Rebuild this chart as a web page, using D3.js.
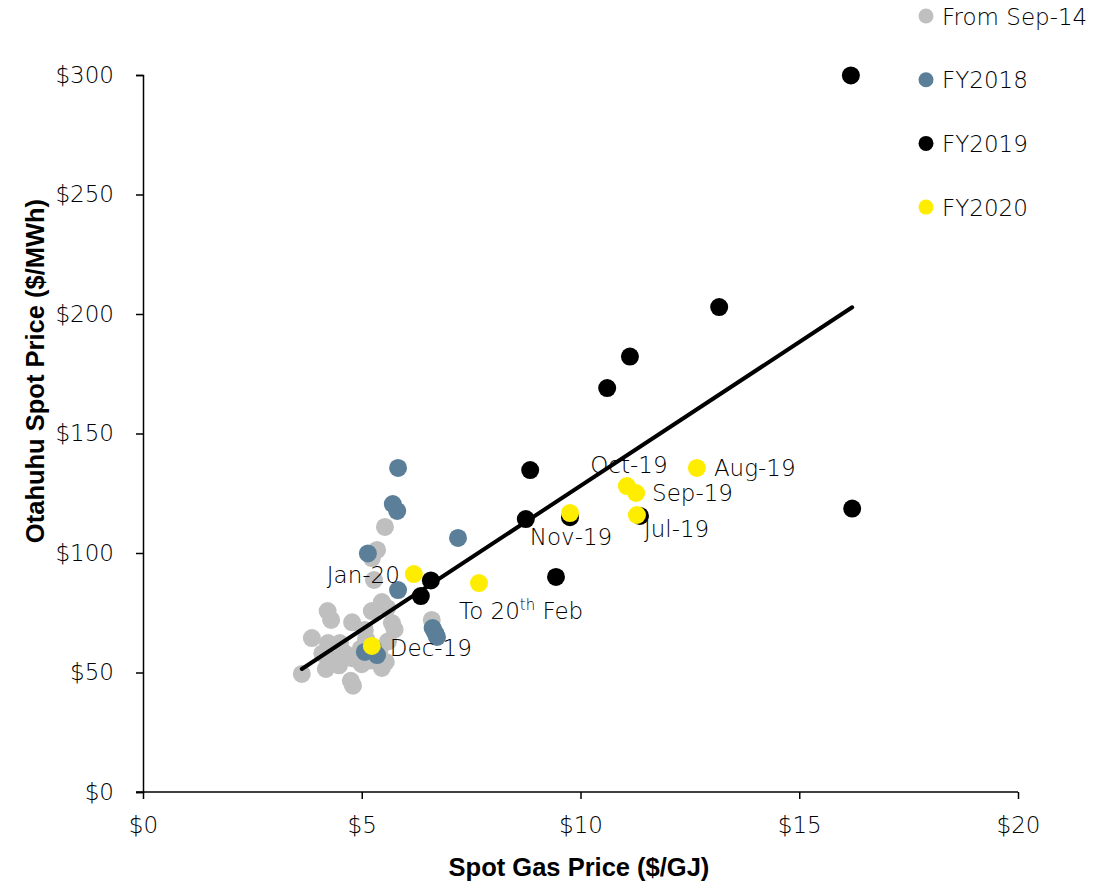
<!DOCTYPE html>
<html>
<head>
<meta charset="utf-8">
<script src="https://cdn.jsdelivr.net/npm/d3@7"></script>
<style>
  body { margin: 0; background: #fff; }
  text { font-family: "DejaVu Sans", sans-serif; font-weight: 200; fill: #000; }
</style>
</head>
<body>
<div id="chart"></div>
<script>
// monthly points: [spot gas $/GJ, Otahuhu spot $/MWh]
const fromSep14 = [
  [3.63, 49.4], [3.86, 64.4], [4.18, 51.5], [4.22, 75.7], [4.30, 72.0], [4.23, 62.3],
  [4.50, 62.3], [4.78, 71.0], [4.78, 56.0], [4.80, 44.5], [4.75, 46.5], [5.07, 67.8],
  [5.23, 75.7], [4.98, 60.0], [4.48, 53.0], [4.62, 58.0], [5.53, 110.9], [5.35, 101.3],
  [5.23, 97.9], [5.28, 88.7], [5.46, 79.5], [5.58, 77.0], [5.69, 70.7], [5.60, 63.0],
  [5.46, 51.9], [5.55, 54.4], [6.60, 72.0], [5.20, 55.0], [5.00, 53.5], [4.35, 55.5],
  [5.75, 68.0], [5.10, 64.0], [5.40, 59.0], [4.10, 58.0]
];
const fy2018 = [
  [5.83, 135.6], [5.71, 120.5], [5.81, 117.6], [5.14, 99.8], [7.20, 106.3], [5.83, 84.5],
  [6.62, 68.6], [6.68, 66.5], [6.72, 64.9], [5.07, 58.6], [5.35, 57.3], [5.25, 60.5]
];
const fy2019 = [
  [16.18, 299.8], [13.17, 202.9], [11.13, 182.2], [10.61, 169.0], [8.85, 134.7], [8.75, 114.2],
  [9.76, 115.0], [11.36, 115.5], [9.44, 90.0], [16.21, 118.6], [6.58, 88.5], [6.35, 82.0]
];
const fy2020 = [
  [11.29, 115.9], [12.66, 135.6], [11.27, 125.1], [11.06, 128.0],
  [9.76, 116.7], [5.23, 61.1], [6.19, 91.2], [7.68, 87.4]
];
const fy2020Labels = ["Jul-19", "Aug-19", "Sep-19", "Oct-19", "Nov-19", "Dec-19", "Jan-20", "To 20th Feb"];

const seriesNames = ["From Sep-14", "FY2018", "FY2019", "FY2020"];
const seriesColors = ["#bfbfbf", "#5b7f99", "#000000", "#ffed00"];

const xTicks = [0, 5, 10, 15, 20];
const yTicks = [0, 50, 100, 150, 200, 250, 300];

// linear trend over all points
const trendSlope = 12.03, trendIntercept = 7.8;

const width = 1095, height = 890;
const margin = {top: 75, right: 77, bottom: 98, left: 143};

const svg = d3.select('#chart').append('svg')
  .attr('width', width)
  .attr('height', height);

const x = d3.scaleLinear().domain([0, 20]).range([margin.left, width - margin.right]);
const y = d3.scaleLinear().domain([0, 300]).range([height - margin.bottom, margin.top]);

// axes
const xAxis = svg.append('g')
  .attr('transform', `translate(0,${y(0)})`)
  .call(d3.axisBottom(x).tickValues(xTicks).tickSize(7).tickPadding(18).tickFormat(d => '$' + d));
const yAxis = svg.append('g')
  .attr('transform', `translate(${x(0)},0)`)
  .call(d3.axisLeft(y).tickValues(yTicks).tickSize(7).tickPadding(22).tickFormat(d => '$' + d));

[xAxis, yAxis].forEach(a => {
  a.select('.domain').attr('stroke', '#000').attr('stroke-width', 1.5);
  a.selectAll('.tick line').attr('stroke', '#000').attr('stroke-width', 1.5);
  a.selectAll('.tick text').attr('font-size', 23).attr('font-family', '"DejaVu Sans", sans-serif')
    .attr('font-weight', 200).attr('fill', '#000');
});
// x domain line runs a little left of zero like the original
xAxis.select('.domain').attr('d', `M${x(0) - 7},0H${x(20)}`);

// axis titles
svg.append('text')
  .attr('x', 579)
  .attr('y', 876)
  .attr('text-anchor', 'middle')
  .attr('font-size', 25.5)
  .style('font-weight', 'bold')
  .style('font-family', '"Liberation Sans", Arial, sans-serif')
  .text('Spot Gas Price ($/GJ)');

svg.append('text')
  .attr('transform', `translate(44,371) rotate(-90)`)
  .attr('text-anchor', 'middle')
  .attr('font-size', 25.5)
  .style('font-weight', 'bold')
  .style('font-family', '"Liberation Sans", Arial, sans-serif')
  .text('Otahuhu Spot Price ($/MWh)');

function drawPoints(data, color) {
  svg.append('g')
    .selectAll('circle')
    .data(data)
    .enter().append('circle')
      .attr('cx', d => x(d[0]))
      .attr('cy', d => y(d[1]))
      .attr('r', 9)
      .attr('fill', color);
}

drawPoints(fromSep14, seriesColors[0]);
drawPoints(fy2018, seriesColors[1]);

// labels for FY2020 months: [dx, dy, anchor]
const labelPlace = {
  "Jul-19": [7, 22, 'start'],
  "Aug-19": [17, 8, 'start'],
  "Sep-19": [16, 8, 'start'],
  "Oct-19": [2, -13, 'middle'],
  "Nov-19": [1, 32, 'middle'],
  "Dec-19": [18, 10, 'start'],
  "Jan-20": [-14, 9, 'end'],
  "To 20th Feb": [-20, 36, 'start']
};

const labelG = svg.append('g');
fy2020.forEach((d, i) => {
  const name = fy2020Labels[i];
  const p = labelPlace[name];
  const t = labelG.append('text')
    .attr('x', x(d[0]) + p[0])
    .attr('y', y(d[1]) + p[1])
    .attr('text-anchor', p[2])
    .attr('font-size', 23);
  if (name === 'To 20th Feb') {
    t.append('tspan').text('To 20');
    t.append('tspan').attr('font-size', 15).attr('dy', -9).text('th');
    t.append('tspan').attr('dy', 9).text(' Feb');
  } else {
    t.text(name);
  }
});

// trend line
const allX = [].concat(fromSep14, fy2018, fy2019, fy2020).map(d => d[0]);
const xExt = d3.extent(allX);
svg.append('line')
  .attr('x1', x(xExt[0])).attr('y1', y(trendSlope * xExt[0] + trendIntercept))
  .attr('x2', x(xExt[1])).attr('y2', y(trendSlope * xExt[1] + trendIntercept))
  .attr('stroke', '#000')
  .attr('stroke-width', 4)
  .attr('stroke-linecap', 'round');

drawPoints(fy2019, seriesColors[2]);
drawPoints(fy2020, seriesColors[3]);

// legend
const legend = svg.append('g');
seriesNames.forEach((name, i) => {
  const gy = 16 + i * 63.7;
  legend.append('circle')
    .attr('cx', 926).attr('cy', gy)
    .attr('r', 7.5)
    .attr('fill', seriesColors[i]);
  legend.append('text')
    .attr('x', 942).attr('y', gy + 8.5)
    .attr('font-size', 23)
    .text(name);
});
</script>
</body>
</html>
